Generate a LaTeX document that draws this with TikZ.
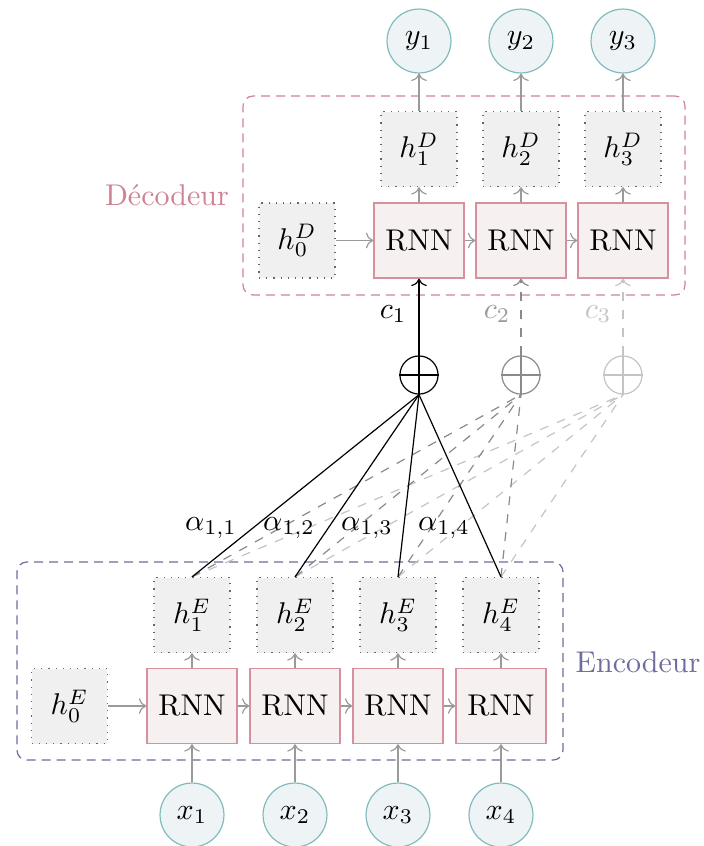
\documentclass[tikz,border=0pt]{standalone}
\usetikzlibrary{arrows.meta}
\definecolor{cirB}{HTML}{82BBBD}
\definecolor{cirF}{HTML}{EEF4F6}
\definecolor{rnnB}{HTML}{D6909E}
\definecolor{rnnF}{HTML}{F7F0F1}
\definecolor{hidF}{HTML}{F0F0F0}
\definecolor{decC}{HTML}{CF8293}
\definecolor{encC}{HTML}{6F6C9E}
\definecolor{arrC}{HTML}{9A9A9A}
\definecolor{midC}{HTML}{8A8A8A}
\definecolor{lowC}{HTML}{C4C4C4}
\begin{document}
\begin{tikzpicture}[x={(0.3333pt,0)}, y={(0,-0.3333pt)},
  io/.style={circle, draw=cirB, fill=cirF, minimum size=21.3pt, inner sep=0pt},
  rnn/.style={rectangle, draw=rnnB, fill=rnnF, minimum width=30pt, minimum height=25pt, inner sep=0pt},
  hid/.style={rectangle, draw=black!60, dotted, fill=hidF, minimum width=25.3pt, minimum height=25pt, inner sep=0pt},
  arr/.style={->, draw=arrC},
  osum/.style={circle, minimum size=12.7pt, inner sep=0pt, draw},
  frame/.style={rectangle, dash pattern=on 3pt off 2pt, rounded corners=3.3pt, inner sep=0pt}]
\useasboundingbox (0,0) rectangle (704,846);

% frames
\node[frame, draw=decC, minimum width=147.3pt, minimum height=66.3pt] (dec) at (464,195.5) {};
\node[frame, draw=encC, minimum width=182pt, minimum height=66pt] (enc) at (290,661) {};
\node[text=decC] (declab) at (167,195) {Décodeur};
\node[text=encC] (enclab) at (638,662) {Encodeur};

% decoder
\node[hid] (hd0) at (297,240.5) {$h_0^D$};
\foreach \i/\x in {1/419,2/521,3/623}{
  \node[rnn] (dr\i) at (\x,240.5) {RNN};
  \node[hid] (hd\i) at (\x,149) {$h_\i^D$};
  \node[io] (y\i) at (\x,41) {$y_\i$};
  \draw[arr] (dr\i) -- (hd\i);
  \draw[arr] (hd\i) -- (y\i);
}
\draw[arr] (hd0) -- (dr1);
\draw[arr] (dr1) -- (dr2);
\draw[arr] (dr2) -- (dr3);

% sums
\node[osum, draw=black] (o1) at (419,375) {};
\node[osum, draw=midC] (o2) at (521,375) {};
\node[osum, draw=lowC] (o3) at (623,375) {};
\draw[black] (o1.north) -- (o1.south) (o1.west) -- (o1.east);
\draw[midC] (o2.north) -- (o2.south) (o2.west) -- (o2.east);
\draw[lowC] (o3.north) -- (o3.south) (o3.west) -- (o3.east);
\draw[->, black] (o1.north) -- (dr1.south);
\draw[->, midC, dashed] (o2.north) -- (dr2.south);
\draw[->, lowC, dashed] (o3.north) -- (dr3.south);
\node (c1) at (393,314) {$c_1$};
\node[text=arrC] (c2) at (497,314) {$c_2$};
\node[text=lowC] (c3) at (598,314) {$c_3$};

% encoder
\node[hid] (he0) at (69.5,706) {$h_0^E$};
\foreach \i/\x in {1/192,2/295,3/398,4/501}{
  \node[rnn] (er\i) at (\x,706) {RNN};
  \node[hid] (he\i) at (\x,615) {$h_\i^E$};
  \node[io] (x\i) at (\x,815) {$x_\i$};
  \draw[arr] (x\i) -- (er\i);
  \draw[arr] (er\i) -- (he\i);
}
\draw[arr] (he0) -- (er1);
\draw[arr] (er1) -- (er2);
\draw[arr] (er2) -- (er3);
\draw[arr] (er3) -- (er4);

% attention links
\foreach \i in {1,2,3,4}{
  \draw[lowC, dashed] (he\i.north) -- (o3.south);
  \draw[midC, dashed] (he\i.north) -- (o2.south);
  \draw[black] (he\i.north) -- (o1.south);
}
\node (a1) at (211,528) {$\alpha_{1,1}$};
\node (a2) at (289,528) {$\alpha_{1,2}$};
\node (a3) at (367,528) {$\alpha_{1,3}$};
\node (a4) at (444,528) {$\alpha_{1,4}$};
\end{tikzpicture}
\end{document}
